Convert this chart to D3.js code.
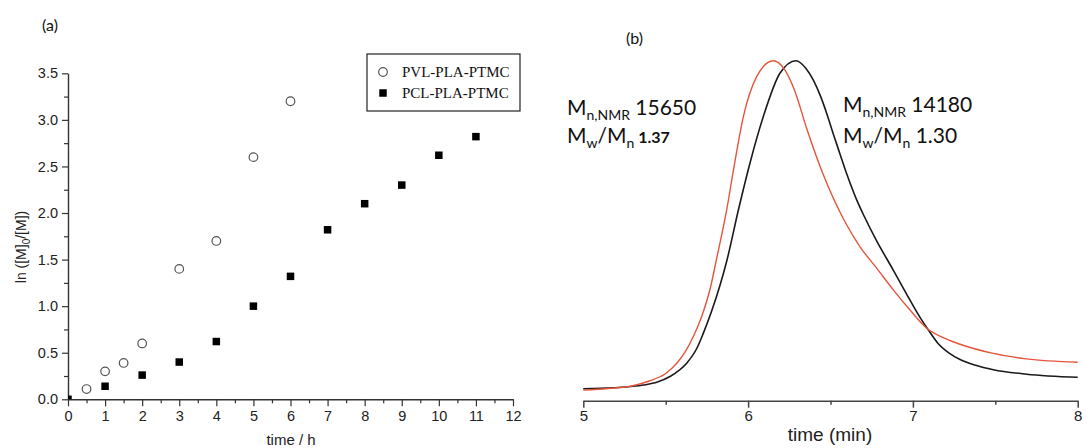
<!DOCTYPE html>
<html>
<head>
<meta charset="utf-8">
<script src="https://cdn.jsdelivr.net/npm/d3@7"></script>
<style>
  html, body { margin: 0; padding: 0; background: #fff; }
  svg { display: block; }
</style>
</head>
<body>
<svg id="chart" width="1090" height="448"></svg>
<script>
// ---------- Panel (a) data ----------
const pvlTime  = [0.5, 1, 1.5, 2, 3, 4, 5, 6];
const pvlValue = [0.11, 0.30, 0.39, 0.60, 1.40, 1.70, 2.60, 3.20];
const pclTime  = [0, 1, 2, 3, 4, 5, 6, 7, 8, 9, 10, 11];
const pclValue = [0.00, 0.14, 0.26, 0.40, 0.62, 1.00, 1.32, 1.82, 2.10, 2.30, 2.62, 2.82];
const aTicksX = [0, 1, 2, 3, 4, 5, 6, 7, 8, 9, 10, 11, 12];
const aTicksY = [0, 0.5, 1.0, 1.5, 2.0, 2.5, 3.0, 3.5];
const legendLabels = ["PVL-PLA-PTMC", "PCL-PLA-PTMC"];

// ---------- Panel (b) data (normalised detector signal) ----------
const redTime   = [5.00, 5.15, 5.30, 5.40, 5.50, 5.567, 5.62, 5.667, 5.72, 5.77, 5.81, 5.87, 5.91, 5.971, 6.052, 6.153,
                   6.22, 6.28, 6.356, 6.456, 6.578, 6.68, 6.78, 6.881, 6.98, 7.084, 7.18, 7.286, 7.488, 7.69, 8.00];
const redSignal = [0.031, 0.036, 0.044, 0.058, 0.080, 0.110, 0.145, 0.188, 0.250, 0.330, 0.420, 0.561, 0.675, 0.835, 0.953, 1.000,
                   0.975, 0.915, 0.800, 0.665, 0.535, 0.452, 0.390, 0.326, 0.268, 0.213, 0.186, 0.166, 0.139, 0.123, 0.113];
const blackTime   = [5.00, 5.18, 5.364, 5.45, 5.526, 5.627, 5.69, 5.728, 5.78, 5.83, 5.87, 5.941, 6.012, 6.092, 6.193, 6.291,
                     6.35, 6.396, 6.44, 6.477, 6.52, 6.558, 6.60, 6.655, 6.706, 6.78, 6.88, 6.98, 7.05, 7.094, 7.15, 7.22,
                     7.286, 7.38, 7.488, 7.69, 8.00];
const blackSignal = [0.035, 0.038, 0.046, 0.055, 0.071, 0.110, 0.155, 0.198, 0.265, 0.340, 0.410, 0.561, 0.700, 0.835, 0.963, 1.000,
                     0.978, 0.943, 0.895, 0.845, 0.780, 0.725, 0.665, 0.595, 0.541, 0.470, 0.385, 0.298, 0.240, 0.208, 0.170, 0.140,
                     0.121, 0.104, 0.091, 0.078, 0.069];
const bTicksX = [5, 6, 7, 8];
const bMinorX = [5.5, 6.5, 7.5];

const svg = d3.select("#chart");
const sans = "'Liberation Sans', Arial, sans-serif";
const calib = "Lato, 'Open Sans', sans-serif";

// ================= Panel (a) =================
const ax = d3.scaleLinear().domain([0, 12]).range([68, 513]);
const ay = d3.scaleLinear().domain([0, 3.5]).range([399.3, 73.3]);
const ga = svg.append("g");

const minorX = d3.range(0.5, 12, 1);
const minorY = d3.range(0.25, 3.5, 0.5);
ga.append("g").attr("transform", `translate(0,${ay(0)})`)
  .call(d3.axisBottom(ax).tickValues(minorX).tickSize(4).tickSizeOuter(0).tickFormat(""))
  .call(g => g.select(".domain").remove())
  .call(g => g.selectAll("line").attr("stroke", "#333").attr("stroke-width", 1.2));
ga.append("g").attr("transform", `translate(${ax(0)},0)`)
  .call(d3.axisLeft(ay).tickValues(minorY).tickSize(4).tickSizeOuter(0).tickFormat(""))
  .call(g => g.select(".domain").remove())
  .call(g => g.selectAll("line").attr("stroke", "#333").attr("stroke-width", 1.2));

const xAxA = ga.append("g").attr("transform", `translate(0,${ay(0)})`)
  .call(d3.axisBottom(ax).tickValues(aTicksX).tickSize(7).tickSizeOuter(0).tickPadding(4).tickFormat(d3.format("d")));
const yAxA = ga.append("g").attr("transform", `translate(${ax(0)},0)`)
  .call(d3.axisLeft(ay).tickValues(aTicksY).tickSize(6).tickSizeOuter(0).tickPadding(4).tickFormat(d3.format(".1f")));
[xAxA, yAxA].forEach(g => {
  g.select(".domain").attr("stroke", "#333").attr("stroke-width", 1.4);
  g.selectAll("line").attr("stroke", "#333").attr("stroke-width", 1.2);
  g.selectAll("text").attr("font-family", sans).attr("font-size", 14.5).attr("fill", "#222");
});

svg.append("defs").append("clipPath").attr("id", "clipA")
  .append("rect").attr("x", ax(0)).attr("y", ay(3.5) - 10)
  .attr("width", ax(12) - ax(0) + 10).attr("height", ay(0) - ay(3.5) + 10);

const marks = ga.append("g").attr("clip-path", "url(#clipA)");
marks.selectAll("circle").data(pvlTime.map((t, i) => [t, pvlValue[i]])).join("circle")
  .attr("cx", d => ax(d[0])).attr("cy", d => ay(d[1])).attr("r", 4.3)
  .attr("fill", "#fff").attr("stroke", "#555").attr("stroke-width", 1.2);
const sq = 7.5;
marks.selectAll("rect").data(pclTime.map((t, i) => [t, pclValue[i]])).join("rect")
  .attr("x", d => ax(d[0]) - sq / 2).attr("y", d => ay(d[1]) - sq / 2)
  .attr("width", sq).attr("height", sq).attr("fill", "#000");

ga.append("text").attr("x", 291).attr("y", 445).attr("text-anchor", "middle")
  .attr("font-family", sans).attr("font-size", 15).attr("fill", "#222").text("time / h");
const yl = ga.append("text").attr("transform", "translate(26,247) rotate(-90)")
  .attr("text-anchor", "middle").attr("font-family", sans).attr("font-size", 14).attr("fill", "#222");
yl.append("tspan").text("ln ([M]");
yl.append("tspan").attr("font-size", 10).attr("dy", 4).text("0");
yl.append("tspan").attr("dy", -4).text("/[M])");

svg.append("text").attr("x", 42).attr("y", 31).attr("font-family", calib).attr("font-size", 16)
  .attr("fill", "#111").text("(a)");

const lg = ga.append("g");
lg.append("rect").attr("x", 367).attr("y", 54).attr("width", 153).attr("height", 57)
  .attr("fill", "#fff").attr("stroke", "#222").attr("stroke-width", 1.2);
lg.append("circle").attr("cx", 383).attr("cy", 72).attr("r", 4.3)
  .attr("fill", "#fff").attr("stroke", "#555").attr("stroke-width", 1.2);
lg.append("rect").attr("x", 383 - sq / 2).attr("y", 93 - sq / 2).attr("width", sq).attr("height", sq).attr("fill", "#000");
lg.selectAll("text").data(legendLabels).join("text")
  .attr("x", 402).attr("y", (d, i) => 77 + i * 21)
  .attr("font-family", "'Liberation Serif', 'Times New Roman', serif").attr("font-size", 15)
  .attr("fill", "#111").text(d => d);

// ================= Panel (b) =================
const bx = d3.scaleLinear().domain([5, 8]).range([583.3, 1077.7]);
const by = d3.scaleLinear().domain([0, 1]).range([400.7, 60.7]);
const gb = svg.append("g");

gb.append("g").attr("transform", `translate(0,${by(0)})`)
  .call(d3.axisBottom(bx).tickValues(bMinorX).tickSize(4).tickSizeOuter(0).tickFormat(""))
  .call(g => g.select(".domain").remove())
  .call(g => g.selectAll("line").attr("stroke", "#444").attr("stroke-width", 1.5));
const xAxB = gb.append("g").attr("transform", `translate(0,${by(0)})`)
  .call(d3.axisBottom(bx).tickValues(bTicksX).tickSize(7).tickSizeOuter(0).tickPadding(3).tickFormat(d3.format("d")));
xAxB.select(".domain").attr("stroke", "#444").attr("stroke-width", 1.6);
xAxB.selectAll("line").attr("stroke", "#444").attr("stroke-width", 1.5);
xAxB.selectAll("text").attr("font-family", sans).attr("font-size", 15).attr("fill", "#222");

gb.append("text").attr("x", 830).attr("y", 441).attr("text-anchor", "middle")
  .attr("font-family", sans).attr("font-size", 19).attr("fill", "#222").text("time (min)");

const line = d3.line().x(d => bx(d[0])).y(d => by(d[1])).curve(d3.curveMonotoneX);
gb.append("path").datum(blackTime.map((t, i) => [t, blackSignal[i]]))
  .attr("d", line).attr("fill", "none").attr("stroke", "#1a1a1a").attr("stroke-width", 1.6);
gb.append("path").datum(redTime.map((t, i) => [t, redSignal[i]]))
  .attr("d", line).attr("fill", "none").attr("stroke", "#e5553b").attr("stroke-width", 1.4);

svg.append("text").attr("x", 626).attr("y", 44).attr("font-family", calib).attr("font-size", 16)
  .attr("fill", "#111").text("(b)");

function annot(x, y1, y2, mn, pdi, boldPdi) {
  const t1 = gb.append("text").attr("x", x).attr("y", y1).attr("font-family", calib)
    .attr("font-size", 21).attr("fill", "#111");
  t1.append("tspan").text("M");
  t1.append("tspan").attr("font-size", 14).attr("dy", 5).text("n,NMR");
  t1.append("tspan").attr("dy", -5).text(" " + mn);
  const t2 = gb.append("text").attr("x", x).attr("y", y2).attr("font-family", calib)
    .attr("font-size", 21).attr("fill", "#111");
  t2.append("tspan").text("M");
  t2.append("tspan").attr("font-size", 14).attr("dy", 5).text("w");
  t2.append("tspan").attr("dy", -5).text("/M");
  t2.append("tspan").attr("font-size", 14).attr("dy", 5).text("n");
  if (boldPdi) {
    t2.append("tspan").attr("font-size", 16).attr("font-weight", "bold").attr("dy", -5).text(" " + pdi);
  } else {
    t2.append("tspan").attr("dy", -5).text(" " + pdi);
  }
}
annot(567, 115, 143, "15650", "1.37", true);
annot(843, 112, 143, "14180", "1.30", false);
</script>
</body>
</html>
